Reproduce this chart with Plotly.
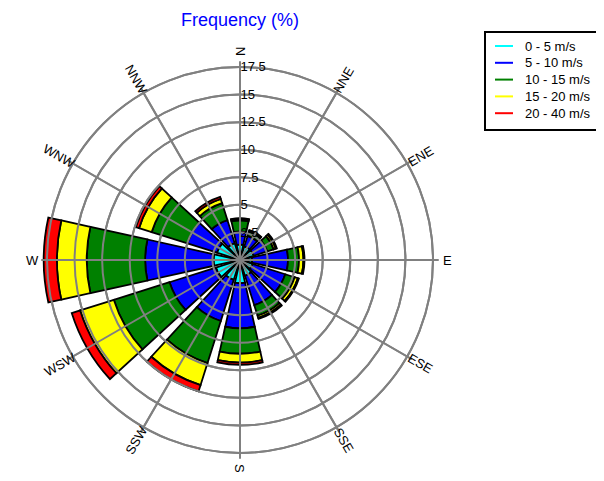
import math
import plotly.graph_objects as go

# --- data ---
directions = ["N", "NNE", "ENE", "E", "ESE", "SSE", "S", "SSW", "WSW", "W", "WNW", "NNW"]
angles = [0, 30, 60, 90, 120, 150, 180, 210, 240, 270, 300, 330]

speed_bins = ["0 - 5 m/s", "5 - 10 m/s", "10 - 15 m/s", "15 - 20 m/s", "20 - 40 m/s"]
freq_0_5 = [1.4, 1.3, 1.3, 1.1, 1.2, 1.5, 2.1, 1.9, 2.3, 2.4, 2.2, 1.6]
freq_5_10 = [1.2, 1.0, 1.3, 3.25, 3.1, 2.8, 4.1, 3.9, 4.4, 6.2, 2.8, 2.2]
freq_10_15 = [1.0, 0.4, 0.6, 1.0, 0.9, 1.0, 2.3, 4.0, 5.3, 5.3, 3.4, 1.6]
freq_15_20 = [0.15, 0.1, 0.2, 0.4, 0.3, 0.2, 0.8, 2.1, 3.2, 2.7, 1.2, 0.4]
freq_20_40 = [0.05, 0.05, 0.1, 0.1, 0.1, 0.1, 0.2, 0.6, 0.8, 1.2, 0.3, 0.2]

radial_ticks = [2.5, 5, 7.5, 10, 12.5, 15, 17.5]
radial_labels = ["2.5", "5", "7.5", "10", "12.5", "15", "17.5"]

COLORS = ["#00ffff", "#0000ff", "#008000", "#ffff00", "#ff0000"]
FONT = "Arial, Liberation Sans, sans-serif"
GRID = "#808080"

W, H = 604, 481
OFF = 8                    # page body margin shifts everything by this much
CX = 240 - OFF             # plot centre, px from left
CY = H - (260 - OFF)       # plot centre, px from bottom
R_PX = 198.5               # px radius of the radial range (17.5 -> 193 px)
DOMAIN = dict(x=[(CX - R_PX) / W, (CX + R_PX) / W], y=[(CY - R_PX) / H, (CY + R_PX) / H])

fig = go.Figure()
series = [freq_0_5, freq_5_10, freq_10_15, freq_15_20, freq_20_40]
for name, vals, col in zip(speed_bins, series, COLORS):
    fig.add_trace(go.Barpolar(
        r=vals, theta=angles, width=25, name=name, showlegend=False,
        marker=dict(color=col, line=dict(color="black", width=1.8)),
    ))
# empty trace so the overlay subplot (grid on top of the bars) gets drawn
fig.add_trace(go.Scatterpolar(r=[None], theta=[None], subplot="polar2", showlegend=False))

# rotated compass labels
annotations = []
for lab, a in zip(directions, angles):
    rad = math.radians(a)
    tx = (CX + 208 * math.sin(rad)) / W
    ty = (CY + 208 * math.cos(rad)) / H
    ang = a - 90 if a <= 180 else a - 270
    annotations.append(dict(
        x=tx, y=ty, xref="paper", yref="paper", text=lab, showarrow=False,
        textangle=ang, xanchor="center", yanchor="middle",
        font=dict(family=FONT, size=13, color="black"),
    ))

# hand-drawn legend box with line swatches
LX0, LY0, LX1, LY1 = 485 - OFF, 32 - OFF, 598 - OFF, 130 - OFF
shapes = [dict(type="rect", xref="paper", yref="paper",
               x0=LX0 / W, x1=LX1 / W, y0=1 - LY1 / H, y1=1 - LY0 / H,
               line=dict(color="black", width=2), fillcolor="white")]
for i, (name, col) in enumerate(zip(speed_bins, COLORS)):
    yy = 46 - OFF + i * 16.8
    shapes.append(dict(type="line", xref="paper", yref="paper",
                       x0=(495 - OFF) / W, x1=(513 - OFF) / W, y0=1 - yy / H, y1=1 - yy / H,
                       line=dict(color=col, width=2)))
    annotations.append(dict(x=(523 - OFF) / W, y=1 - yy / H, xref="paper", yref="paper",
                            text=name, showarrow=False, xanchor="left", yanchor="middle",
                            font=dict(family=FONT, size=13, color="black")))

# title
annotations.append(dict(x=CX / W, y=1, xref="paper", yref="paper", text="Frequency (%)",
                        showarrow=False, xanchor="center", yanchor="top",
                        font=dict(family=FONT, size=18, color="#0000ff")))

axis_common = dict(
    radialaxis=dict(range=[0, 18], tickvals=radial_ticks, ticktext=radial_labels,
                    showline=False, ticks="", gridcolor=GRID, gridwidth=2, angle=90),
    angularaxis=dict(rotation=90, direction="clockwise", tickvals=angles,
                     showticklabels=False, ticks="", showline=False,
                     gridcolor=GRID, gridwidth=2),
)

fig.update_layout(
    width=W, height=H,
    margin=dict(l=0, r=0, t=0, b=0),
    paper_bgcolor="white",
    showlegend=False,
    font=dict(family=FONT, size=12, color="black"),
    polar=dict(domain=DOMAIN, bgcolor="white", barmode="stack",
               radialaxis=dict(axis_common["radialaxis"], showticklabels=False),
               angularaxis=axis_common["angularaxis"]),
    polar2=dict(domain=DOMAIN, bgcolor="rgba(0,0,0,0)",
                radialaxis=dict(axis_common["radialaxis"], tickangle=90, side="clockwise",
                                tickfont=dict(family=FONT, size=13, color="black")),
                angularaxis=axis_common["angularaxis"]),
    shapes=shapes,
    annotations=annotations,
)

fig.write_html("out.html")
